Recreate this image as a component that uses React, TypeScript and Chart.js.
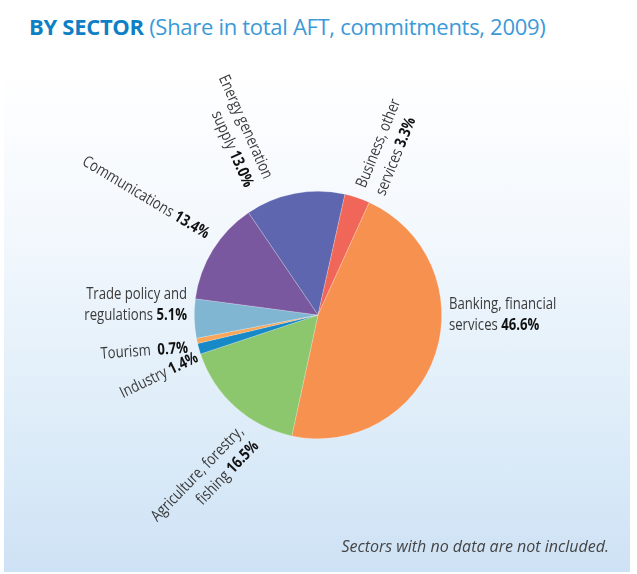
import React, { useEffect, useRef } from "react";
import { Chart, registerables } from "chart.js";

Chart.register(...registerables);

// ---- Data ----
const sectors = [
  "Energy generation\nsupply",
  "Business, other\nservices",
  "Banking, financial\nservices",
  "Agriculture, forestry,\nfishing",
  "Industry",
  "Tourism ",
  "Trade policy and\nregulations",
  "Communications",
];
const shares = [13.0, 3.3, 46.6, 16.5, 1.4, 0.7, 5.1, 13.4];
const sliceColors = [
  "#5D66AE",
  "#F0675A",
  "#F7914F",
  "#8CC66D",
  "#1689C6",
  "#F8A65A",
  "#80B6D2",
  "#7A589F",
];

// ---- Label layout (offsets from pie centre, rotation in degrees) ----
const labelLayout = [
  { dx: -50, dy: -137, rot: 66, align: "right" },
  { dx: 43, dy: -128, rot: -68, align: "left" },
  { dx: 131, dy: -11, rot: 0, align: "left" },
  { dx: -77, dy: 114, rot: -46, align: "right" },
  { dx: -121, dy: 42, rot: -26, align: "right" },
  { dx: -130, dy: 33, rot: -4, align: "right" },
  { dx: -131, dy: -21, rot: 0, align: "right" },
  { dx: -110, dy: -80, rot: 31, align: "right" },
];

const LABEL_FONT = '"Open Sans", "Noto Sans", sans-serif';
const LABEL_SIZE = 16;
const SCALE_X = 0.82;
const LINE_H = 21;

const labelPlugin = {
  id: "sectorLabels",
  afterDatasetsDraw(chart: any) {
    const ctx = chart.ctx;
    const meta = chart.getDatasetMeta(0);
    if (!meta.data.length) return;
    const cx = meta.data[0].x;
    const cy = meta.data[0].y;
    const fN = LABEL_SIZE + "px " + LABEL_FONT;
    const fB = "bold " + LABEL_SIZE + "px " + LABEL_FONT;
    sectors.forEach((name, i) => {
      const lay = labelLayout[i];
      const lines = name.split("\n");
      const value = shares[i].toFixed(1) + "%";
      ctx.save();
      ctx.translate(cx + lay.dx, cy + lay.dy);
      ctx.rotate((lay.rot * Math.PI) / 180);
      ctx.scale(SCALE_X, 1);
      ctx.textBaseline = "middle";
      ctx.textAlign = "left";
      lines.forEach((ln, j) => {
        const isLast = j === lines.length - 1;
        const normal = isLast ? ln + " " : ln;
        ctx.font = fN;
        const wN = ctx.measureText(normal).width;
        let wB = 0;
        if (isLast) {
          ctx.font = fB;
          wB = ctx.measureText(value).width;
        }
        const total = wN + wB;
        const x0 = lay.align === "right" ? -total : 0;
        const y = j * LINE_H;
        ctx.font = fN;
        ctx.fillStyle = "#3a3a3a";
        ctx.fillText(normal, x0, y);
        if (isLast) {
          ctx.font = fB;
          ctx.fillStyle = "#111111";
          ctx.fillText(value, x0 + wN, y);
        }
      });
      ctx.restore();
    });
  },
};

export default function App() {
  const canvasRef = useRef<HTMLCanvasElement | null>(null);

  useEffect(() => {
    document.body.style.margin = "0";
    const canvas = canvasRef.current;
    if (!canvas) return;
    const chart = new Chart(canvas, {
      type: "pie",
      data: {
        labels: sectors,
        datasets: [
          {
            data: shares,
            backgroundColor: sliceColors,
            borderColor: "rgba(255,255,255,0.35)",
            borderWidth: 0.6,
          },
        ],
      },
      options: {
        animation: false,
        responsive: false,
        rotation: -34.2,
        layout: { padding: { left: 194, right: 195, top: 191, bottom: 135 } },
        plugins: {
          legend: { display: false },
          tooltip: { enabled: false },
        },
      },
      plugins: [labelPlugin],
    });
    return () => chart.destroy();
  }, []);

  return (
    <div style={{ position: "relative", width: 637, height: 574, overflow: "hidden", background: "#fff" }}>
      <div
        style={{
          position: "absolute",
          left: 4,
          top: 0,
          width: 626,
          height: 572,
          background:
            "linear-gradient(to bottom, #ffffff 0%, #ffffff 12%, #f3f8fd 40%, #e0eef9 70%, #cee2f5 100%)",
        }}
      />
      <div
        style={{
          position: "absolute",
          left: 29,
          top: 11,
          fontFamily: '"Open Sans", "Noto Sans", sans-serif',
          fontSize: 22,
          lineHeight: "30px",
          whiteSpace: "nowrap",
          letterSpacing: -0.3,
        }}
      >
        <span style={{ fontWeight: 700, color: "#0E7FC4" }}>BY SECTOR</span>
        <span style={{ color: "#3A9AD8" }}> (Share in total AFT, commitments, 2009)</span>
      </div>
      <canvas ref={canvasRef} width={637} height={574} style={{ position: "absolute", left: 0, top: 0 }} />
      <div
        style={{
          position: "absolute",
          right: 28,
          top: 535,
          fontFamily: '"Open Sans", "Noto Sans", sans-serif',
          fontStyle: "italic",
          fontSize: 16,
          lineHeight: "22px",
          color: "#444",
          whiteSpace: "nowrap",
        }}
      >
        Sectors with no data are not included.
      </div>
    </div>
  );
}
